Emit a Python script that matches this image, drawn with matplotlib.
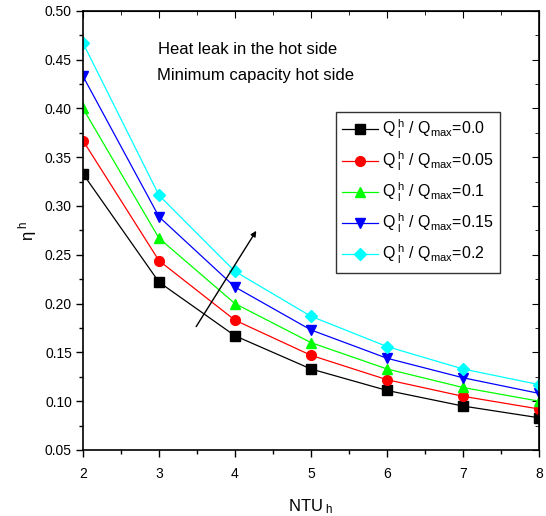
import numpy as np
import matplotlib.pyplot as plt

plt.rcParams['font.family'] = ['Liberation Sans', 'DejaVu Sans']
plt.rcParams['mathtext.fontset'] = 'custom'
plt.rcParams['mathtext.rm'] = 'Liberation Sans'
plt.rcParams['mathtext.it'] = 'Liberation Sans'

# data
ntu = [2, 3, 4, 5, 6, 7, 8]
eta_00 = [0.333, 0.222, 0.167, 0.133, 0.111, 0.095, 0.083]
eta_05 = [0.367, 0.244, 0.183, 0.147, 0.122, 0.105, 0.092]
eta_10 = [0.400, 0.267, 0.200, 0.160, 0.133, 0.114, 0.100]
eta_15 = [0.433, 0.289, 0.217, 0.173, 0.144, 0.124, 0.108]
eta_20 = [0.467, 0.311, 0.233, 0.187, 0.156, 0.133, 0.117]
ratios = ["0.0", "0.05", "0.1", "0.15", "0.2"]

series = [eta_00, eta_05, eta_10, eta_15, eta_20]
colors = ["black", "red", "#00ff00", "blue", "cyan"]
markers = ["s", "o", "^", "v", "D"]
msizes = [6.5, 7, 7, 7, 6.5]

fig = plt.figure(figsize=(5.46, 5.16), dpi=100)
ax = fig.add_axes([0.152, 0.128, 0.835, 0.851])

for y, c, m, ms, r in zip(series, colors, markers, msizes, ratios):
    ax.plot(ntu, y, color=c, lw=0.9, marker=m, markersize=ms,
            label=r"$\mathregular{Q^{\ h}_{\ l}\ /\ Q_{max}}$=" + r)

ax.set_xlim(2, 8)
ax.set_ylim(0.05, 0.50)
ax.set_xticks(np.arange(2, 9, 1))
ax.set_xticks(np.arange(2.5, 8, 1), minor=True)
ax.set_yticks(np.arange(0.05, 0.51, 0.05))
ax.set_yticks(np.arange(0.075, 0.5, 0.05), minor=True)
ax.yaxis.set_major_formatter(plt.FormatStrFormatter('%.2f'))
ax.tick_params(which='major', direction='out', length=5, width=1, labelsize=10, pad=3)
ax.tick_params(which='minor', direction='out', length=3, width=1)
ax.tick_params(axis='x', which='major', pad=7)
for s in ax.spines.values():
    s.set_linewidth(1.2)

# inward ticks on top and right
ax2 = ax.secondary_xaxis('top')
ax2.set_xticks(np.arange(2, 9, 1))
ax2.set_xticks(np.arange(2.5, 8, 1), minor=True)
ax2.tick_params(which='major', direction='in', length=5, labeltop=False)
ax2.tick_params(which='minor', direction='in', length=3)
ax2.set_xticklabels([])
ax3 = ax.secondary_yaxis('right')
ax3.set_yticks(np.arange(0.05, 0.51, 0.05))
ax3.set_yticks(np.arange(0.075, 0.5, 0.05), minor=True)
ax3.tick_params(which='major', direction='in', length=5)
ax3.tick_params(which='minor', direction='in', length=3)
ax3.set_yticklabels([])

ax.set_xlabel(r"$\mathregular{NTU_{\ h}}$", fontsize=12, labelpad=12)
ax.set_ylabel(r"$\mathregular{\eta^{\ h}}$", fontsize=12, labelpad=4)

ax.text(2.99, 0.460, "Heat leak in the hot side", fontsize=12, va='center')
ax.text(2.97, 0.434, "Minimum capacity hot side", fontsize=12, va='center')

ax.annotate("", xy=(4.30, 0.277), xytext=(3.47, 0.174),
            arrowprops=dict(arrowstyle='-|>', color='black', lw=1, mutation_scale=8))

leg = ax.legend(loc='upper left', bbox_to_anchor=(0.555, 0.77), fontsize=11.5,
                frameon=True, fancybox=False, edgecolor='black',
                handlelength=2.2, handletextpad=0.3, labelspacing=0.5,
                borderpad=0.4, borderaxespad=0)
leg.get_frame().set_linewidth(1)

fig.savefig("out.png", dpi=100)
